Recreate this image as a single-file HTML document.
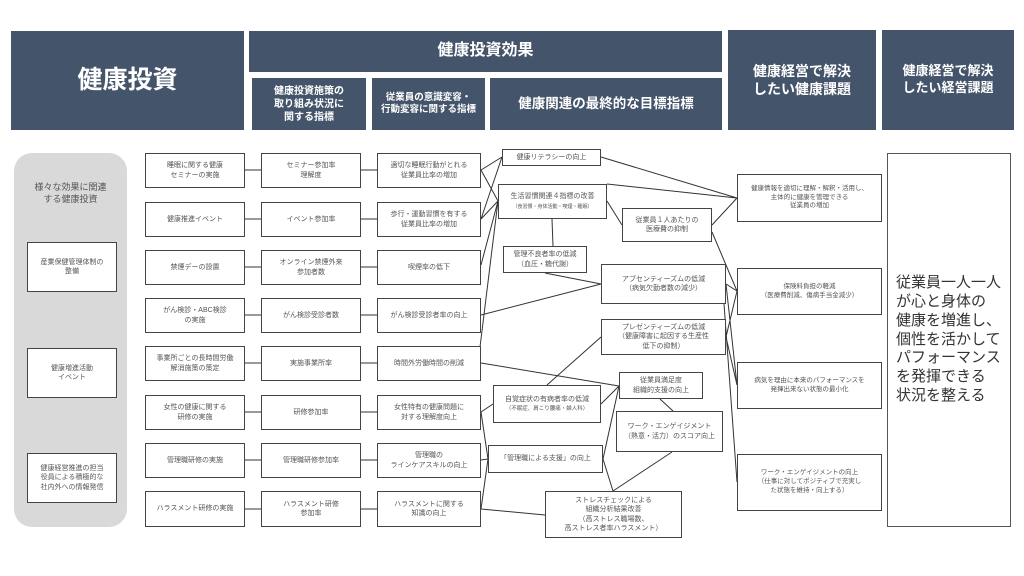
<!DOCTYPE html>
<html><head><meta charset="utf-8"><style>
body{margin:0;width:1024px;height:576px;background:#fff;position:relative;overflow:hidden;font-family:"Liberation Sans","Noto Sans CJK JP",sans-serif}
.h{position:absolute;background:#44546a;color:#fff;font-weight:bold;display:flex;align-items:center;justify-content:center;text-align:center;line-height:1.3}
.b{position:absolute;border:1px solid #444;background:#fff;box-sizing:border-box;display:flex;align-items:center;justify-content:center;text-align:center;font-size:7px;color:#555;line-height:1.35}
svg{position:absolute;left:0;top:0}
</style></head><body>
<div class="h" style="left:11px;top:31px;width:233px;height:99px;font-size:25px">健康投資</div>
<div class="h" style="left:249px;top:31px;width:473px;height:41px;font-size:16px">健康投資効果</div>
<div class="h" style="left:252px;top:78px;width:114px;height:52px;font-size:10px">健康投資施策の<br>取り組み状況に<br>関する指標</div>
<div class="h" style="left:372px;top:78px;width:113px;height:52px;font-size:9.5px">従業員の意識変容・<br>行動変容に関する指標</div>
<div class="h" style="left:490px;top:78px;width:232px;height:52px;font-size:13.5px">健康関連の最終的な目標指標</div>
<div class="h" style="left:728px;top:30px;width:148px;height:100px;font-size:14px">健康経営で解決<br>したい健康課題</div>
<div class="h" style="left:882px;top:30px;width:132px;height:100px;font-size:13px">健康経営で解決<br>したい経営課題</div>

<div style="position:absolute;left:14px;top:153px;width:113px;height:374px;background:#d9d9d9;border-radius:18px"></div>
<div style="position:absolute;left:14px;top:181px;width:113px;text-align:center;font-size:9px;color:#555;line-height:1.35">様々な効果に関連<br>する健康投資</div>
<div class="b" style="left:27px;top:242px;width:90px;height:50px">産業保健管理体制の<br>整備</div>
<div class="b" style="left:27px;top:348px;width:90px;height:50px">健康増進活動<br>イベント</div>
<div class="b" style="left:27px;top:453px;width:90px;height:50px">健康経営推進の担当<br>役員による積極的な<br>社内外への情報発信</div>

<svg width="1024" height="576"><g stroke="#333" stroke-width="1" fill="none">
<path d="M245 170H261M361 170H377M245 219H261M361 219H377M245 267H261M361 267H377M245 315H261M361 315H377M245 363H261M361 363H377M245 412H261M361 412H377M245 460H261M361 460H377M245 509H261M361 509H377"/>
<path d="M481 170L502 157M481 170L498 201M481 219L502 157M481 219L498 201M481 265L498 201M481 315L601 284M480 347L498 201M481 363L619 386M481 412L493 404M481 412L488 459M481 460L488 459M481 509L488 459M481 509L545 515"/>
<path d="M603 459L619 386M603 459L613 491M601 404L619 386M547 385L601 337M660 399L673 411M672 452L613 491M553 246L552 219M545 273L601 284"/>
<path d="M607 201L622 225M607 184L737 198M601 157L737 198M712 225L737 198M712 232L737 291M726 284L737 291M726 284L737 385M723 290L737 482M726 337L737 291M726 337L737 385"/>
</g></svg>

<div class="b" style="left:145px;top:153px;width:100px;height:35px">睡眠に関する健康<br>セミナーの実施</div>
<div class="b" style="left:145px;top:202px;width:100px;height:35px">健康推進イベント</div>
<div class="b" style="left:145px;top:250px;width:100px;height:35px">禁煙デーの設置</div>
<div class="b" style="left:145px;top:298px;width:100px;height:35px">がん検診・ABC検診<br>の実施</div>
<div class="b" style="left:145px;top:346px;width:100px;height:35px">事業所ごとの長時間労働<br>解消施策の策定</div>
<div class="b" style="left:145px;top:395px;width:100px;height:35px">女性の健康に関する<br>研修の実施</div>
<div class="b" style="left:145px;top:443px;width:100px;height:35px">管理職研修の実施</div>
<div class="b" style="left:145px;top:491px;width:100px;height:36px">ハラスメント研修の実施</div>

<div class="b" style="left:261px;top:153px;width:100px;height:35px">セミナー参加率<br>理解度</div>
<div class="b" style="left:261px;top:202px;width:100px;height:35px">イベント参加率</div>
<div class="b" style="left:261px;top:250px;width:100px;height:35px">オンライン禁煙外来<br>参加者数</div>
<div class="b" style="left:261px;top:298px;width:100px;height:35px">がん検診受診者数</div>
<div class="b" style="left:261px;top:346px;width:100px;height:35px">実施事業所率</div>
<div class="b" style="left:261px;top:395px;width:100px;height:35px">研修参加率</div>
<div class="b" style="left:261px;top:443px;width:100px;height:35px">管理職研修参加率</div>
<div class="b" style="left:261px;top:491px;width:100px;height:36px">ハラスメント研修<br>参加率</div>

<div class="b" style="left:377px;top:153px;width:104px;height:35px">適切な睡眠行動がとれる<br>従業員比率の増加</div>
<div class="b" style="left:377px;top:202px;width:104px;height:35px">歩行・運動習慣を有する<br>従業員比率の増加</div>
<div class="b" style="left:377px;top:250px;width:104px;height:35px">喫煙率の低下</div>
<div class="b" style="left:377px;top:298px;width:104px;height:35px">がん検診受診者率の向上</div>
<div class="b" style="left:377px;top:346px;width:104px;height:35px">時間外労働時間の削減</div>
<div class="b" style="left:377px;top:395px;width:104px;height:35px">女性特有の健康問題に<br>対する理解度向上</div>
<div class="b" style="left:377px;top:443px;width:104px;height:35px">管理職の<br>ラインケアスキルの向上</div>
<div class="b" style="left:377px;top:491px;width:104px;height:36px">ハラスメントに関する<br>知識の向上</div>

<div class="b" style="left:502px;top:149px;width:99px;height:17px">健康リテラシーの向上</div>
<div class="b" style="left:498px;top:184px;width:109px;height:35px"><div>生活習慣関連４指標の改善<br><span style="font-size:5px">（食習慣・身体活動・喫煙・睡眠）</span></div></div>
<div class="b" style="left:622px;top:208px;width:90px;height:34px">従業員１人あたりの<br>医療費の抑制</div>
<div class="b" style="left:503px;top:246px;width:84px;height:27px">管理不良者率の低減<br>（血圧・糖代謝）</div>
<div class="b" style="left:601px;top:264px;width:125px;height:40px">アブセンティーズムの低減<br>（病気欠勤者数の減少）</div>
<div class="b" style="left:601px;top:319px;width:125px;height:36px">プレゼンティーズムの低減<br>（健康障害に起因する生産性<br>低下の抑制）</div>
<div class="b" style="left:493px;top:385px;width:108px;height:38px"><div>自覚症状の有病者率の低減<br><span style="font-size:5.5px">（不眠症、肩こり腰痛・婦人科）</span></div></div>
<div class="b" style="left:619px;top:372px;width:84px;height:27px">従業員満足度<br>組織的支援の向上</div>
<div class="b" style="left:616px;top:411px;width:107px;height:41px">ワーク・エンゲイジメント<br>（熱意・活力）のスコア向上</div>
<div class="b" style="left:488px;top:445px;width:115px;height:28px">「管理職による支援」の向上</div>
<div class="b" style="left:545px;top:491px;width:137px;height:47px">ストレスチェックによる<br>組織分析結果改善<br>（高ストレス職場数、<br>高ストレス者率ハラスメント）</div>

<div class="b" style="left:737px;top:174px;width:145px;height:48px;font-size:6.5px">健康情報を適切に理解・解釈・活用し、<br>主体的に健康を管理できる<br>従業員の増加</div>
<div class="b" style="left:737px;top:268px;width:145px;height:47px;font-size:6.5px">保険料負担の軽減<br>（医療費削減、傷病手当金減少）</div>
<div class="b" style="left:737px;top:362px;width:145px;height:47px;font-size:6.5px">病気を理由に本来のパフォーマンスを<br>発揮出来ない状態の最小化</div>
<div class="b" style="left:737px;top:454px;width:145px;height:57px;font-size:6.5px">ワーク・エンゲイジメントの向上<br>（仕事に対してポジティブで充実し<br>た状態を維持・向上する）</div>

<div class="b" style="left:887px;top:153px;width:124px;height:374px;font-size:15px;color:#333;justify-content:flex-start;text-align:left;padding-left:8px;line-height:1.25;border-color:#555">従業員一人一人<br>が心と身体の<br>健康を増進し、<br>個性を活かして<br>パフォーマンス<br>を発揮できる<br>状況を整える</div>
</body></html>
